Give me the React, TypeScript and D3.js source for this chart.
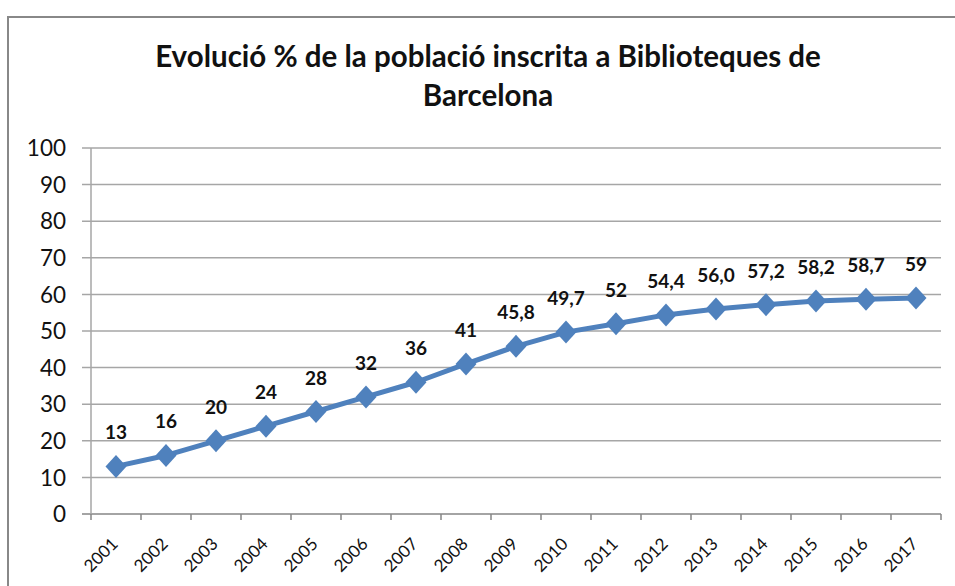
import { useEffect, useRef } from 'react';
import * as d3 from 'd3';

const years = ['2001', '2002', '2003', '2004', '2005', '2006', '2007', '2008', '2009',
    '2010', '2011', '2012', '2013', '2014', '2015', '2016', '2017'];
const values = [13, 16, 20, 24, 28, 32, 36, 41, 45.8, 49.7, 52, 54.4, 56.0, 57.2, 58.2, 58.7, 59];
const valueLabels = ['13', '16', '20', '24', '28', '32', '36', '41', '45,8', '49,7', '52',
    '54,4', '56,0', '57,2', '58,2', '58,7', '59'];
const yTicks = [0, 10, 20, 30, 40, 50, 60, 70, 80, 90, 100];
const titleLines = ['Evolució % de la població inscrita a Biblioteques de', 'Barcelona'];

const App = () => {
    const svgRef = useRef<SVGSVGElement>(null);
    const width = 955;
    const height = 586;
    const plot = { left: 91, right: 941, top: 148, bottom: 514 };

    useEffect(() => {
        const svg = d3.select(svgRef.current);
        svg.selectAll('*').remove();

        const font = 'Lato, Calibri, sans-serif';

        // chart frame
        svg.append('rect')
            .attr('x', 8).attr('y', 17)
            .attr('width', 980).attr('height', 620)
            .attr('fill', '#fff')
            .attr('stroke', '#888')
            .attr('stroke-width', 2);

        svg.append('g')
            .selectAll('text')
            .data(titleLines)
            .join('text')
            .attr('x', 488)
            .attr('y', (d, i) => 67 + i * 39)
            .attr('text-anchor', 'middle')
            .attr('font-family', font)
            .attr('font-weight', 'bold')
            .attr('font-size', 29.5)
            .attr('fill', '#111')
            .text(d => d);

        const x = d3.scaleBand()
            .domain(years)
            .range([plot.left, plot.right]);

        const y = d3.scaleLinear()
            .domain([0, 100])
            .range([plot.bottom, plot.top]);

        // gridlines
        svg.append('g')
            .selectAll('line')
            .data(yTicks)
            .join('line')
            .attr('x1', plot.left - 9)
            .attr('x2', plot.right)
            .attr('y1', d => y(d))
            .attr('y2', d => y(d))
            .attr('stroke', d => d === 0 ? '#868686' : '#a6a6a6')
            .attr('stroke-width', 1.5);

        // y axis line
        svg.append('line')
            .attr('x1', plot.left).attr('x2', plot.left)
            .attr('y1', plot.top).attr('y2', plot.bottom)
            .attr('stroke', '#a6a6a6')
            .attr('stroke-width', 1.5);

        // x ticks at category boundaries
        const bounds = years.map(d => x(d) as number).concat([plot.right]);
        svg.append('g')
            .selectAll('line')
            .data(bounds)
            .join('line')
            .attr('x1', d => d).attr('x2', d => d)
            .attr('y1', plot.bottom).attr('y2', plot.bottom + 6)
            .attr('stroke', '#868686')
            .attr('stroke-width', 1.5);

        svg.append('g')
            .selectAll('text')
            .data(yTicks)
            .join('text')
            .attr('x', 66)
            .attr('y', d => y(d))
            .attr('dy', '0.36em')
            .attr('text-anchor', 'end')
            .attr('font-family', font)
            .attr('font-size', 22.5)
            .attr('fill', '#111')
            .text(d => d);

        const cx = (d: string) => (x(d) as number) + x.bandwidth() / 2;

        svg.append('g')
            .selectAll('text')
            .data(years)
            .join('text')
            .attr('transform', d => 'translate(' + (cx(d) + 3) + ',' + (plot.bottom + 31) + ') rotate(-45)')
            .attr('text-anchor', 'end')
            .attr('font-family', font)
            .attr('font-size', 17)
            .attr('fill', '#111')
            .text(d => d);

        const line = d3.line<number>()
            .x((d, i) => cx(years[i]))
            .y(d => y(d));

        svg.append('path')
            .datum(values)
            .attr('d', line)
            .attr('fill', 'none')
            .attr('stroke', '#4f81bd')
            .attr('stroke-width', 5)
            .attr('stroke-linejoin', 'round');

        const rx = 10.5;
        const ry = 11.5;
        svg.append('g')
            .selectAll('path')
            .data(values)
            .join('path')
            .attr('d', (d, i) => {
                const px = cx(years[i]);
                const py = y(d);
                return `M${px},${py - ry}L${px + rx},${py}L${px},${py + ry}L${px - rx},${py}Z`;
            })
            .attr('fill', '#4f81bd');

        svg.append('g')
            .selectAll('text')
            .data(values)
            .join('text')
            .attr('x', (d, i) => cx(years[i]))
            .attr('y', d => y(d) - 27)
            .attr('text-anchor', 'middle')
            .attr('font-family', font)
            .attr('font-weight', 'bold')
            .attr('font-size', 19)
            .attr('fill', '#111')
            .text((d, i) => valueLabels[i]);
    }, []);

    return (
        <svg ref={svgRef} width={width} height={height}
            style={{ position: 'absolute', left: 0, top: 0 }}></svg>
    );
};

export default App;
